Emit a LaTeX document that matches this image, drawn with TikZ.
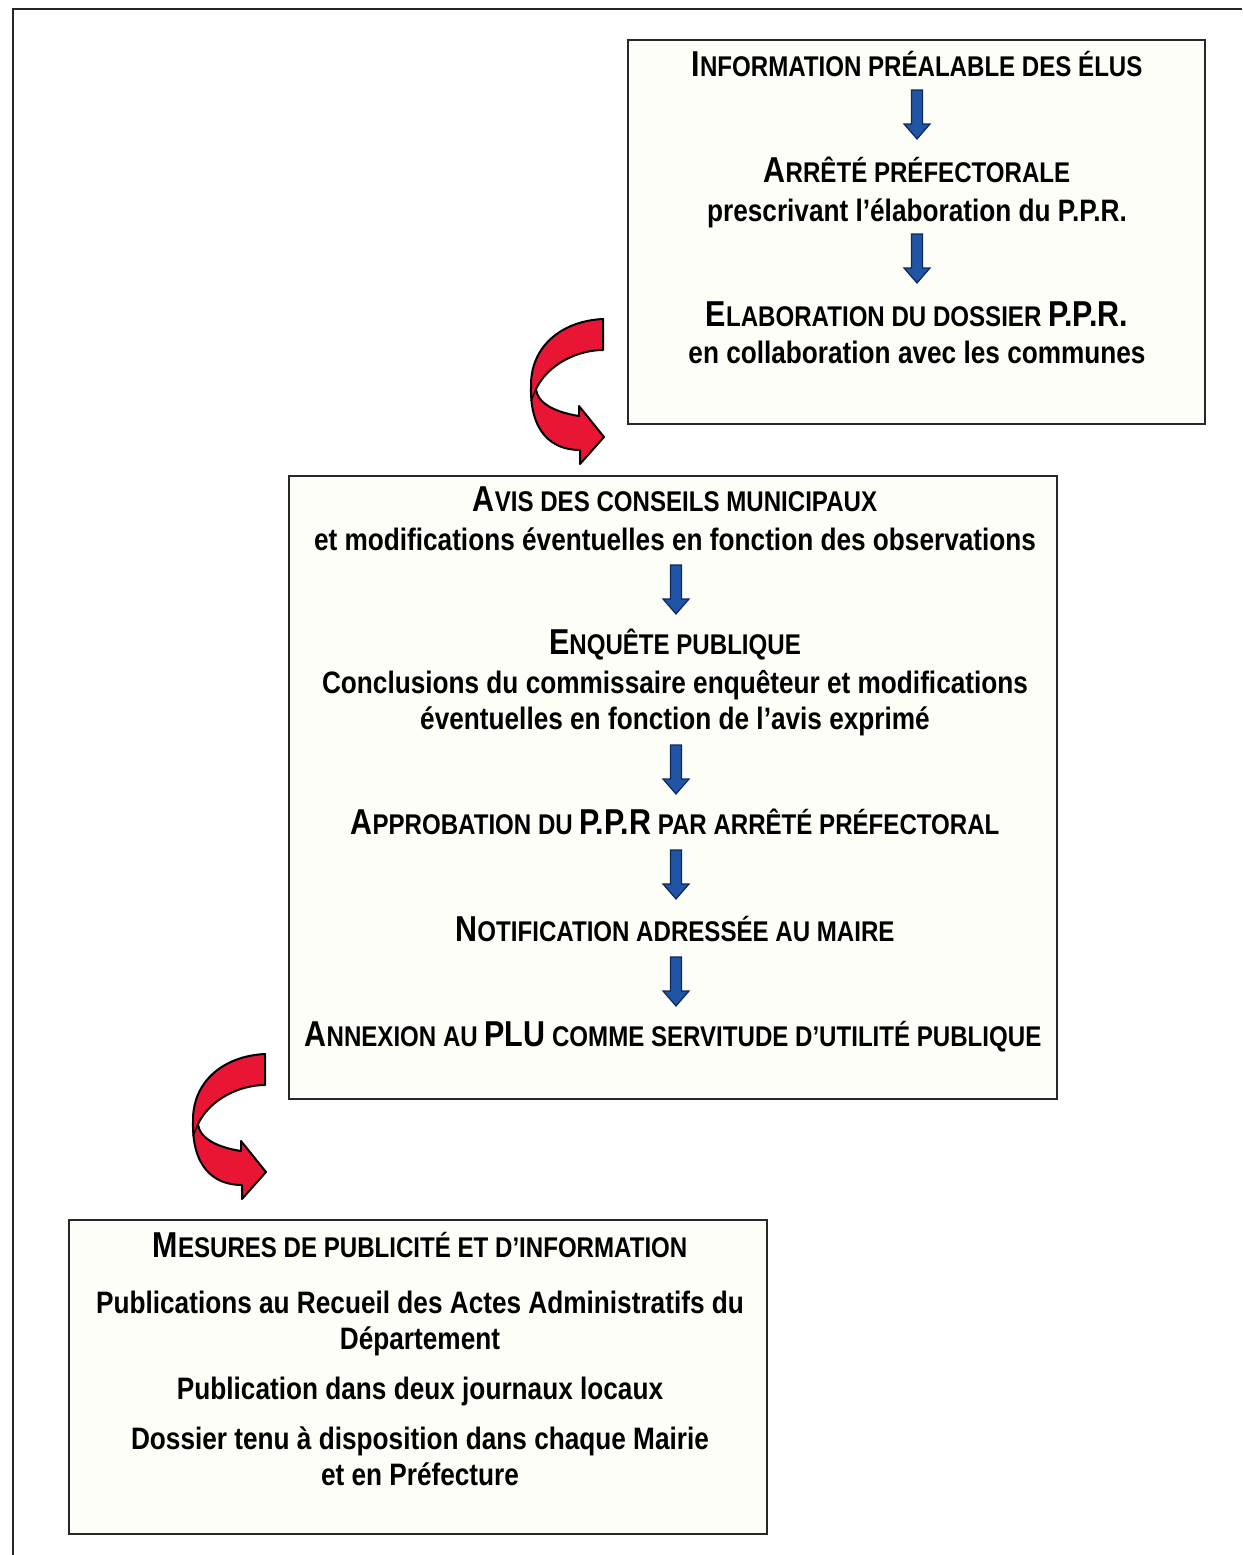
\documentclass[tikz,border=0pt]{standalone}
\usepackage{fontspec}
\setmainfont{Liberation Sans}[FakeStretch=0.845]
\definecolor{boxfill}{RGB}{254,254,248}
\definecolor{boxedge}{RGB}{40,40,40}
\definecolor{redfill}{RGB}{232,22,52}
\definecolor{bluefill}{RGB}{32,84,164}
\definecolor{blueedge}{RGB}{14,40,92}
\newcommand\CapB[1]{{\fontsize{36}{38}\selectfont #1}}
\newcommand\CapS[1]{{\fontsize{28.5}{30}\selectfont #1}}
\tikzset{
  boxst/.style={draw=boxedge, line width=1.7pt, fill=boxfill, rectangle, inner sep=0},
  txt/.style={anchor=base, inner sep=0, font=\bfseries\fontsize{31}{34}\selectfont},
  redarrow/.pic={
    \filldraw[fill=redfill, draw=black, line width=2pt, line join=round]
      (0,0) .. controls (-42,2) and (-73,28) .. (-72,68)
      .. controls (-73,112) and (-52,131) .. (-23,131)
      -- (-23,145) -- (1,118) -- (-24,87) -- (-24,97)
      .. controls (-50,93) and (-66,83) .. (-67,70)
      .. controls (-55,45) and (-25,31) .. (0,31) -- cycle;
    \draw[black, line width=1.5pt] (-67,70) .. controls (-69,76) .. (-72,82);
  },
  bluearrow/.pic={
    \filldraw[fill=bluefill, draw=blueedge, line width=1.2pt, line join=miter]
      (-5.5,0) -- (5.5,0) -- (5.5,34) -- (13,34) -- (0,49) -- (-13,34) -- (-5.5,34) -- cycle;
  }
}
\begin{document}
\begin{tikzpicture}[x=1pt,y=-1pt]
\useasboundingbox (0,0) rectangle (1242,1555);
\fill[white] (0,0) rectangle (1242,1555);
% outer frame
\coordinate (fbl) at (13,1555);
\coordinate (ftl) at (13,9);
\coordinate (ftr) at (1242,9);
\draw[line width=2pt, black!85] (fbl) -- (ftl) -- (ftr);

% boxes
\node[boxst, minimum width=577pt, minimum height=384pt] (b1) at (916.5,232) {};
\node[boxst, minimum width=768pt, minimum height=623pt] (b2) at (673,787.5) {};
\node[boxst, minimum width=698pt, minimum height=314pt] (b3) at (418,1377) {};

% box 1
\node[txt] (t11) at (917,77) {\CapB{I}\CapS{NFORMATION PRÉALABLE DES ÉLUS}};
\node[txt] (t12) at (917,182) {\CapB{A}\CapS{RRÊTÉ PRÉFECTORALE}};
\node[txt] (t13) at (917,221) {prescrivant l’élaboration du P.P.R.};
\node[txt] (t14) at (917,326) {\CapB{E}\CapS{LABORATION DU DOSSIER }\CapB{P.P.R.}};
\node[txt] (t15) at (917,363) {en collaboration avec les communes};

% box 2
\node[txt] (t21) at (675,511) {\CapB{A}\CapS{VIS DES CONSEILS MUNICIPAUX}};
\node[txt] (t22) at (675,550) {et modifications éventuelles en fonction des observations};
\node[txt] (t23) at (675,654) {\CapB{E}\CapS{NQUÊTE PUBLIQUE}};
\node[txt] (t24) at (675,693) {Conclusions du commissaire enquêteur et modifications};
\node[txt] (t25) at (675,729) {éventuelles en fonction de l’avis exprimé};
\node[txt] (t26) at (675,834) {\CapB{A}\CapS{PPROBATION DU }\CapB{P.P.R}\CapS{ PAR ARRÊTÉ PRÉFECTORAL}};
\node[txt] (t27) at (675,941) {\CapB{N}\CapS{OTIFICATION ADRESSÉE AU MAIRE}};
\node[txt] (t28) at (673,1046) {\CapB{A}\CapS{NNEXION AU }\CapB{PLU}\CapS{ COMME SERVITUDE D’UTILITÉ PUBLIQUE}};

% box 3
\node[txt] (t31) at (420,1257) {\CapB{M}\CapS{ESURES DE PUBLICITÉ ET D’INFORMATION}};
\node[txt] (t32) at (420,1313) {Publications au Recueil des Actes Administratifs du};
\node[txt] (t33) at (420,1349) {Département};
\node[txt] (t34) at (420,1399) {Publication dans deux journaux locaux};
\node[txt] (t35) at (420,1449) {Dossier tenu à disposition dans chaque Mairie};
\node[txt] (t36) at (420,1485) {et en Préfecture};

% blue arrows
\pic at (917,90) {bluearrow};
\pic at (917,234) {bluearrow};
\pic at (676,565) {bluearrow};
\pic at (676,745) {bluearrow};
\pic at (676,850) {bluearrow};
\pic at (676,957) {bluearrow};

% red arrows
\pic at (603,319) {redarrow};
\pic at (265,1054) {redarrow};
\end{tikzpicture}
\end{document}
